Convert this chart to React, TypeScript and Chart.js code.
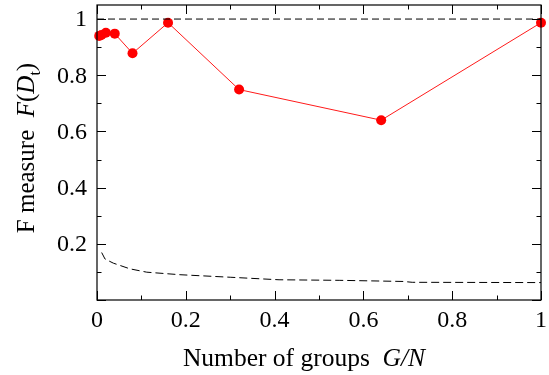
import React, { useEffect, useRef } from "react";
import { Chart, registerables } from "chart.js";

Chart.register(...registerables);

const groupRatio = [0.005, 0.01, 0.02, 0.04, 0.08, 0.16, 0.32, 0.64, 1];
const fMeasure = [0.94, 0.943, 0.951, 0.948, 0.878, 0.987, 0.749, 0.64, 0.987];

const baselineX = [0.0105, 0.018, 0.037, 0.074, 0.112, 0.187, 0.3, 0.41, 0.547, 0.69, 0.71, 1];
const baselineY = [0.169, 0.146, 0.131, 0.111, 0.099, 0.09, 0.081, 0.072, 0.07, 0.066, 0.063, 0.062];

const upperX = [0, 1];
const upperY = [1, 1];

const xTickLabels = ["0", "0.2", "0.4", "0.6", "0.8", "1"];
const yTickLabels = ["0.2", "0.4", "0.6", "0.8", "1"];

const FONT = "'Liberation Serif', 'Times New Roman', serif";

Chart.defaults.font.family = FONT;
Chart.defaults.font.size = 24;
Chart.defaults.color = "#000";

function fmt(v: number) {
  const r = Math.round(v * 10) / 10;
  return r === 0 ? "0" : r === 1 ? "1" : r.toFixed(1);
}

const framePlugin = {
  id: "frame",
  afterDraw(chart: any) {
    const { ctx, chartArea } = chart;
    const { left, right, top, bottom } = chartArea;
    const xs = chart.scales.x;
    const ys = chart.scales.y;
    ctx.save();
    ctx.strokeStyle = "#000";
    ctx.lineWidth = 1.2;
    ctx.strokeRect(left, top, right - left, bottom - top);
    ctx.lineWidth = 1;
    ctx.beginPath();
    xs.ticks.forEach((t: any) => {
      const px = Math.round(xs.getPixelForValue(t.value)) + 0.5;
      const major = xTickLabels.includes(fmt(t.value));
      const len = major ? 9 : 4.5;
      ctx.moveTo(px, bottom);
      ctx.lineTo(px, bottom - len);
      ctx.moveTo(px, top);
      ctx.lineTo(px, top + len);
    });
    ys.ticks.forEach((t: any) => {
      const py = Math.round(ys.getPixelForValue(t.value)) + 0.5;
      const major = Math.round(t.value * 10) % 2 === 0;
      const len = major ? 9 : 4.5;
      ctx.moveTo(left, py);
      ctx.lineTo(left + len, py);
      ctx.moveTo(right, py);
      ctx.lineTo(right - len, py);
    });
    ctx.stroke();

    // tick labels
    ctx.fillStyle = "#000";
    ctx.font = `24px ${FONT}`;
    ctx.textAlign = "center";
    ctx.textBaseline = "middle";
    xs.ticks.forEach((t: any) => {
      const f = fmt(t.value);
      if (xTickLabels.includes(f)) ctx.fillText(f, xs.getPixelForValue(t.value), bottom + 21);
    });
    ctx.textAlign = "right";
    ys.ticks.forEach((t: any) => {
      const f = fmt(t.value);
      if (yTickLabels.includes(f)) ctx.fillText(f, left - 10, ys.getPixelForValue(t.value) + 1);
    });

    ctx.textAlign = "left";
    ctx.textBaseline = "alphabetic";
    const size = 25.5;
    const partsX = [
      { t: "Number of groups  ", f: `${size}px ${FONT}` },
      { t: "G/N", f: `italic ${size}px ${FONT}` },
    ];
    let w = 0;
    partsX.forEach((p) => {
      ctx.font = p.f;
      w += ctx.measureText(p.t).width;
    });
    let x0 = 304 - w / 2;
    const yb = 366;
    partsX.forEach((p) => {
      ctx.font = p.f;
      ctx.fillText(p.t, x0, yb);
      x0 += ctx.measureText(p.t).width;
    });

    const ysz = 25;
    const partsY = [
      { t: "F measure  ", f: `${ysz}px ${FONT}`, dy: 0 },
      { t: "F", f: `italic ${ysz}px ${FONT}`, dy: 0 },
      { t: "(", f: `${ysz}px ${FONT}`, dy: 0 },
      { t: "D", f: `italic ${ysz}px ${FONT}`, dy: 0 },
      { t: "t", f: `${Math.round(ysz * 0.65)}px ${FONT}`, dy: 6 },
      { t: ")", f: `${ysz}px ${FONT}`, dy: 0 },
    ];
    let wy = 0;
    partsY.forEach((p) => {
      ctx.font = p.f;
      wy += ctx.measureText(p.t).width;
    });
    ctx.translate(34, 148);
    ctx.rotate(-Math.PI / 2);
    let xx = -wy / 2;
    partsY.forEach((p) => {
      ctx.font = p.f;
      ctx.fillText(p.t, xx, p.dy);
      xx += ctx.measureText(p.t).width;
    });
    ctx.restore();
  },
};

export default function App() {
  const ref = useRef<HTMLCanvasElement>(null);
  useEffect(() => {
    document.body.style.margin = "0";
    const chart = new Chart(ref.current!, {
      type: "line",
      data: {
        datasets: [
          {
            data: upperX.map((x, i) => ({ x, y: upperY[i] })),
            borderColor: "#000",
            borderWidth: 1,
            borderDash: [7, 4],
            pointRadius: 0,
          },
          {
            data: baselineX.map((x, i) => ({ x, y: baselineY[i] })),
            borderColor: "#000",
            borderWidth: 1,
            borderDash: [8, 4],
            pointRadius: 0,
          },
          {
            data: groupRatio.map((x, i) => ({ x, y: fMeasure[i] })),
            borderColor: "#ff1a1a",
            borderWidth: 1,
            pointRadius: 5,
            pointBackgroundColor: "#ff0000",
            pointBorderColor: "#ff0000",
            pointBorderWidth: 0,
            clip: false as any,
          },
        ],
      },
      options: {
        animation: false,
        responsive: false,
        layout: { padding: { left: 0, right: 8, top: 3, bottom: 0 } },
        plugins: { legend: { display: false }, tooltip: { enabled: false } },
        scales: {
          x: {
            type: "linear",
            min: 0,
            max: 1,
            grid: { display: false, drawTicks: false },
            border: { display: false },
            afterBuildTicks: (s: any) => {
              const t = [];
              for (let i = 0; i <= 10; i++) t.push({ value: i / 10 });
              s.ticks = t;
            },
            afterFit: (s: any) => {
              s.height = 75;
              s.paddingLeft = 0;
              s.paddingRight = 0;
            },
            ticks: { display: false, autoSkip: false },
          },
          y: {
            type: "linear",
            min: 0,
            max: 1.05,
            grid: { display: false, drawTicks: false },
            border: { display: false },
            afterBuildTicks: (s: any) => {
              const t = [];
              for (let i = 0; i <= 10; i++) t.push({ value: i / 10 });
              s.ticks = t;
            },
            afterFit: (s: any) => {
              s.width = 97;
              s.paddingTop = 0;
              s.paddingBottom = 0;
            },
            ticks: { display: false, autoSkip: false },
          },
        },
      },
      plugins: [framePlugin],
    });
    return () => chart.destroy();
  }, []);
  return <canvas ref={ref} width={549} height={375} style={{ display: "block" }} />;
}
